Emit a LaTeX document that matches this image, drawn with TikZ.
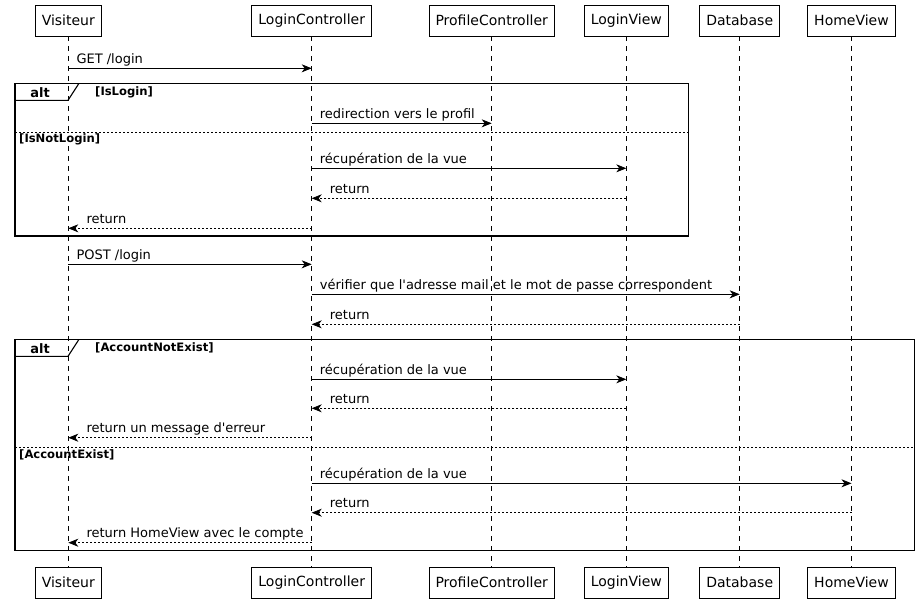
\documentclass[tikz,border=0pt]{standalone}
\usepackage{fontspec}
\setmainfont{DejaVu Sans}[Ligatures=TeXOff]
\usetikzlibrary{arrows.meta}

\newcommand{\msgR}[4]{% from, to, y, label (left to right)
  \draw[msg] (#1 |- 0,#3) -- (#2 |- 0,#3);
  \node[lbl, anchor=base west, xshift=8pt, yshift=5pt] at (#1 |- 0,#3) {#4};}
\newcommand{\retL}[4]{% from, to, y, label (right to left, dashed)
  \draw[ret] (#1 |- 0,#3) -- (#2 |- 0,#3);
  \node[lbl, anchor=base west, xshift=18pt, yshift=5pt] at (#2 |- 0,#3) {#4};}
\newcommand{\altframe}[5]{% left, top, right, bottom, guard
  \draw[frame] (#1,#2) rectangle (#3,#4);
  \draw[frame] (#1,#2+17) -- (68,#2+17) -- (79,#2);
  \node[kw] at (40,#2+9) {alt};
  \node[guard, anchor=west] at (95,#2+9) {#5};}

\tikzset{
  part/.style={draw, line width=0.9pt, minimum height=31pt, inner xsep=6.5pt,
    font=\fontsize{14}{16}\selectfont},
  lifeline/.style={line width=0.8pt, dash pattern=on 5pt off 5pt},
  msg/.style={-{Stealth[length=10pt,width=8pt,inset=3pt]}, line width=0.8pt},
  ret/.style={msg, dash pattern=on 2pt off 2pt},
  lbl/.style={inner sep=0pt, font=\fontsize{13}{15}\selectfont},
  frame/.style={line width=1.1pt},
  sep/.style={line width=0.7pt, dash pattern=on 2pt off 2pt},
  kw/.style={inner sep=0pt, font=\fontsize{13}{15}\selectfont\bfseries},
  guard/.style={inner sep=0pt, font=\fontsize{11.6}{13}\selectfont\bfseries},
}

\begin{document}
\begin{tikzpicture}[x=1pt, y=-1pt]
\useasboundingbox[fill=white] (0,0) rectangle (920,603);

% participants, top and bottom
\foreach \n/\t/\x in {V/Visiteur/68.3, LC/LoginController/311.7,
    PC/ProfileController/491.7, LV/LoginView/626.3, DB/Database/739.7,
    HV/HomeView/851.5} {
  \node[part] (\n) at (\x,20.5) {\t};
  \node[part] (\n2) at (\x,582.5) {\t};
}
% lifelines
\foreach \n in {V,LC,PC,LV,DB,HV} {
  \draw[lifeline] (\n.south) -- (\n2.north);
}

% GET /login
\msgR{V}{LC}{68.3}{GET /login}

% first alternative block
\altframe{15}{83.3}{688.3}{236}{[IsLogin]}
\msgR{LC}{PC}{123.3}{redirection vers le profil}
\draw[sep] (15,132.3) -- (688.3,132.3);
\node[guard, anchor=west] at (19,139) {[IsNotLogin]};
\msgR{LC}{LV}{168.3}{récupération de la vue}
\retL{LV}{LC}{198.3}{return}
\retL{LC}{V}{228.3}{return}

% POST /login
\msgR{V}{LC}{264.3}{POST /login}
\msgR{LC}{DB}{294.3}{vérifier que l'adresse mail et le mot de passe correspondent}
\retL{DB}{LC}{324.3}{return}

% second alternative block
\altframe{15}{339.3}{914.3}{550.7}{[AccountNotExist]}
\msgR{LC}{LV}{379.3}{récupération de la vue}
\retL{LV}{LC}{408.3}{return}
\retL{LC}{V}{437.7}{return un message d'erreur}
\draw[sep] (15,447.7) -- (914.3,447.7);
\node[guard, anchor=west] at (19,455) {[AccountExist]};
\msgR{LC}{HV}{483.3}{récupération de la vue}
\retL{HV}{LC}{512.7}{return}
\retL{LC}{V}{542.7}{return HomeView avec le compte}
\end{tikzpicture}
\end{document}
